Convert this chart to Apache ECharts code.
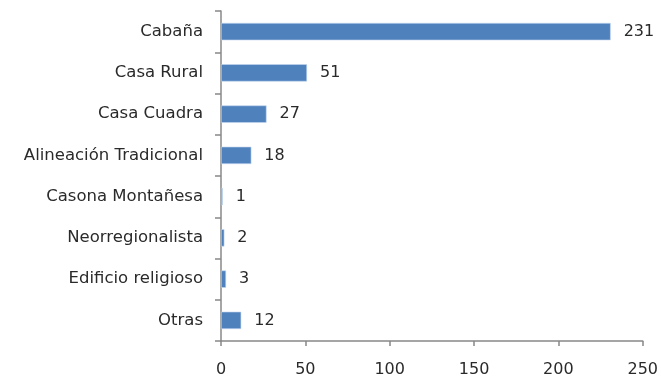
<!DOCTYPE html>
<html><head><meta charset="utf-8">
<script src="https://cdn.jsdelivr.net/npm/echarts@6/dist/echarts.min.js"></script>
<style>html,body{margin:0;padding:0;background:#fff}#c{width:661px;height:381px}</style>
</head><body><div id="c"></div>
<script>
const categories = ["Cabaña","Casa Rural","Casa Cuadra","Alineación Tradicional","Casona Montañesa","Neorregionalista","Edificio religioso","Otras"];
const values = [231,51,27,18,1,2,3,12];
const xTicks = [0,50,100,150,200,250];

const chart = echarts.init(document.getElementById('c'));
chart.setOption({
  animation:false,
  textStyle:{fontFamily:'DejaVu Sans'},
  grid:{left:221,right:13,top:11,bottom:40},
  xAxis:{type:'value',min:xTicks[0],max:xTicks[xTicks.length-1],interval:50,
    axisLine:{show:true,lineStyle:{color:'#888',width:1.5}},
    axisTick:{show:true,length:5,lineStyle:{color:'#888',width:1.5}},
    splitLine:{show:false},
    axisLabel:{margin:21,color:'#2a2a2a',fontSize:16}},
  yAxis:{type:'category',data:categories,inverse:true,
    axisLine:{lineStyle:{color:'#888',width:1.5}},
    axisTick:{show:true,length:6,lineStyle:{color:'#888',width:1.5}},
    axisLabel:{margin:18,color:'#2a2a2a',fontSize:16.5}},
  series:[{type:'bar',data:values,barWidth:'42%',
    itemStyle:{color:'#4f81bd',borderColor:'#c6d9f0',borderWidth:0.6},
    label:{show:true,position:'right',distance:13,color:'#2a2a2a',fontSize:16}}]
});
</script></body></html>
